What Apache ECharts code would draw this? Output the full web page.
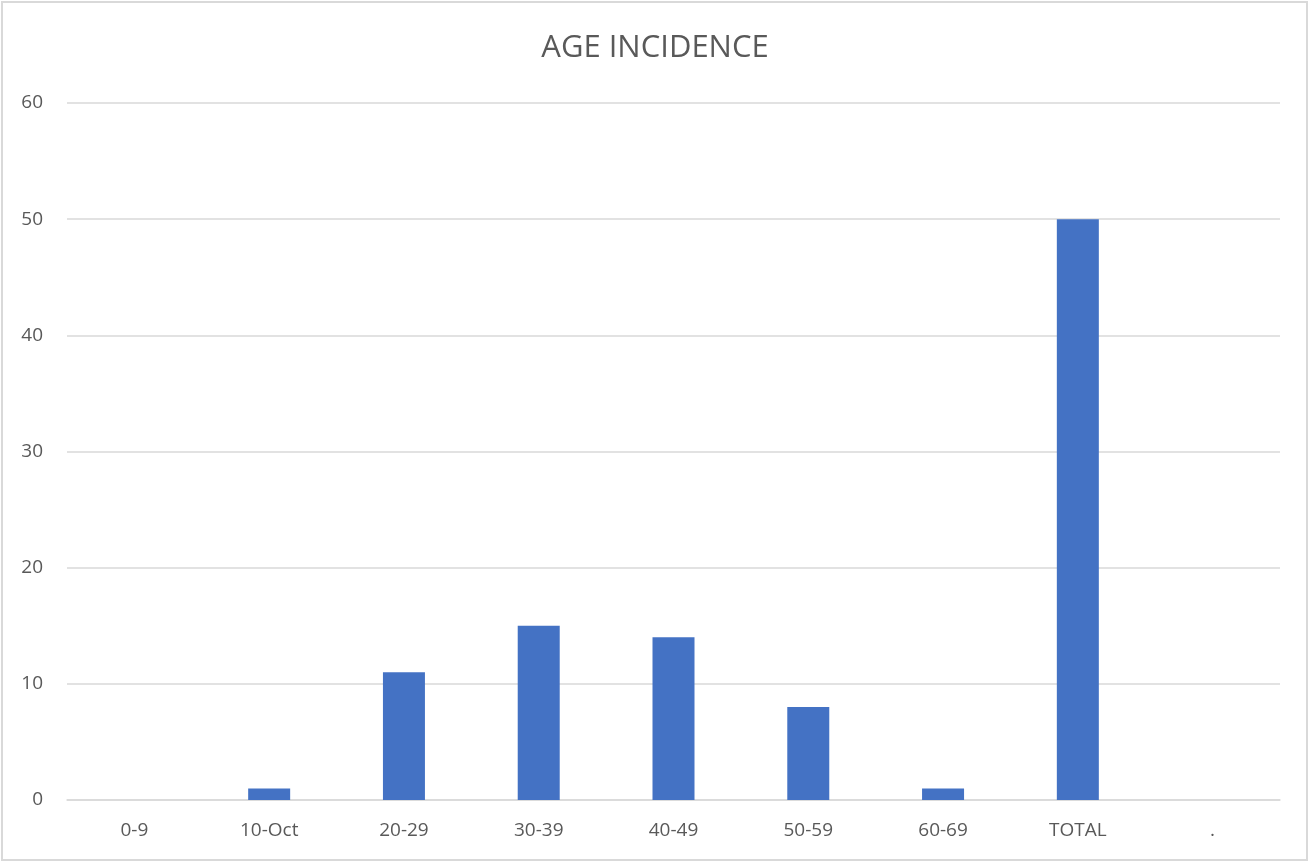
<!DOCTYPE html>
<html>
<head>
<meta charset="utf-8">
<script src="https://cdn.jsdelivr.net/npm/echarts@6/dist/echarts.min.js"></script>
<style>
  html, body { margin: 0; padding: 0; background: #ffffff; }
  #chart { width: 1310px; height: 863px; }
</style>
</head>
<body>
<div id="chart"></div>
<script>
// Age groups and case counts
const categories = ['0-9', '10-Oct', '20-29', '30-39', '40-49', '50-59', '60-69', 'TOTAL', '.'];
const counts = [0, 1, 11, 15, 14, 8, 1, 50, null];
const yTicks = { min: 0, max: 60, interval: 10 };

const textColor = '#595959';
const fontFamily = '"Open Sans", "Noto Sans", "Liberation Sans", sans-serif';

const chart = echarts.init(document.getElementById('chart'), null, { renderer: 'canvas' });

chart.setOption({
  backgroundColor: '#ffffff',
  animation: false,
  title: {
    text: 'AGE INCIDENCE',
    left: 'center',
    top: 28,
    textStyle: { color: textColor, fontSize: 31, fontWeight: 'normal', fontFamily: fontFamily }
  },
  graphic: [{
    type: 'rect',
    shape: { x: 2, y: 2, width: 1305, height: 858 },
    style: { fill: 'none', stroke: '#d9d9d9', lineWidth: 2 },
    silent: true
  }],
  grid: { left: 67, right: 30, top: 103, bottom: 63, containLabel: false },
  xAxis: {
    type: 'category',
    data: categories,
    axisLine: { show: true, lineStyle: { color: '#d9d9d9', width: 1.5 } },
    axisTick: { show: false },
    axisLabel: { color: textColor, fontSize: 19, margin: 21, fontFamily: fontFamily, interval: 0 }
  },
  yAxis: {
    type: 'value',
    min: yTicks.min,
    max: yTicks.max,
    interval: yTicks.interval,
    axisLine: { show: false },
    axisTick: { show: false },
    axisLabel: { color: textColor, fontSize: 19, margin: 24, fontFamily: fontFamily },
    splitLine: { lineStyle: { color: '#d9d9d9', width: 1.5 } }
  },
  series: [{
    type: 'bar',
    data: counts,
    barWidth: 42,
    itemStyle: { color: '#4472C4' }
  }]
});
</script>
</body>
</html>
